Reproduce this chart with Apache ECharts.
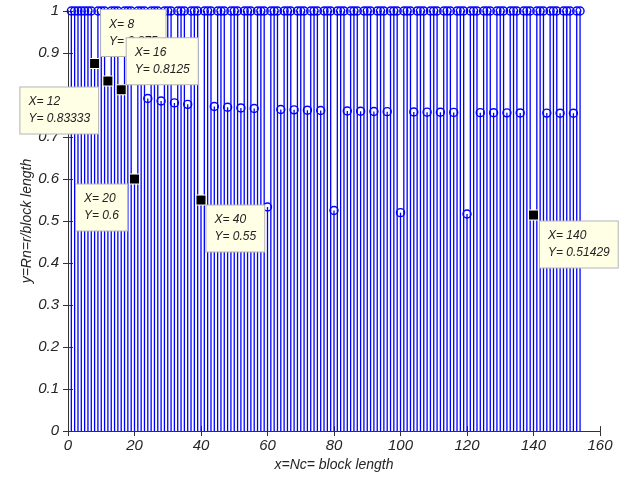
<!DOCTYPE html>
<html>
<head>
<meta charset="utf-8">
<script src="https://cdn.jsdelivr.net/npm/echarts@6/dist/echarts.min.js"></script>
<style>
  html, body { margin: 0; padding: 0; background: #fff; }
  #chart { width: 622px; height: 477px; }
</style>
</head>
<body>
<div id="chart"></div>
<script>
// rate y = r / block length, for block length 1..154
const rates = [
  1, 1, 1, 1, 1, 1, 1, 0.875, 1, 1,
  1, 0.83333, 1, 1, 1, 0.8125, 1, 1, 1, 0.6,
  1, 1, 1, 0.79167, 1, 1, 1, 0.78571, 1, 1,
  1, 0.78125, 1, 1, 1, 0.77778, 1, 1, 1, 0.55,
  1, 1, 1, 0.77273, 1, 1, 1, 0.77083, 1, 1,
  1, 0.76923, 1, 1, 1, 0.76786, 1, 1, 1, 0.53333,
  1, 1, 1, 0.76563, 1, 1, 1, 0.76471, 1, 1,
  1, 0.76389, 1, 1, 1, 0.76316, 1, 1, 1, 0.525,
  1, 1, 1, 0.7619, 1, 1, 1, 0.76136, 1, 1,
  1, 0.76087, 1, 1, 1, 0.76042, 1, 1, 1, 0.52,
  1, 1, 1, 0.75962, 1, 1, 1, 0.75926, 1, 1,
  1, 0.75893, 1, 1, 1, 0.75862, 1, 1, 1, 0.51667,
  1, 1, 1, 0.75806, 1, 1, 1, 0.75781, 1, 1,
  1, 0.75758, 1, 1, 1, 0.75735, 1, 1, 1, 0.51429,
  1, 1, 1, 0.75694, 1, 1, 1, 0.75676, 1, 1,
  1, 0.75658, 1, 1
];

// data tips
const tipX = [8, 12, 16, 20, 40, 140];
const tipY = [0.875, 0.83333, 0.8125, 0.6, 0.55, 0.51429];
const tipOffsets = [[12, -48], [-82, 12], [11, -46], [-53, 11], [11, 11], [12, 12]];

const font = "'Liberation Sans', Arial, sans-serif";
const axisColor = "#333";
const textColor = "#262626";

const points = rates.map((r, i) => [i + 1, r]);

const tips = tipX.map((x, i) => ({
  value: [x, tipY[i]],
  label: { position: tipOffsets[i] },
}));

const chart = echarts.init(document.getElementById("chart"));
chart.setOption({
  animation: false,
  grid: { left: 68, right: 22, top: 11, bottom: 45 },
  xAxis: [
    {
      type: "value",
      min: 0,
      max: 160,
      interval: 20,
      name: "x=Nc= block length",
      nameLocation: "middle",
      nameGap: 26,
      nameTextStyle: { fontFamily: font, fontStyle: "italic", fontSize: 14, color: textColor },
      axisLine: { lineStyle: { color: axisColor } },
      axisTick: { inside: true, length: 5, lineStyle: { color: axisColor } },
      axisLabel: { fontFamily: font, fontStyle: "italic", fontSize: 15, color: textColor, margin: 7 },
      splitLine: { show: false },
    },
    {
      type: "value",
      position: "top",
      min: 0,
      max: 160,
      interval: 20,
      axisLine: { show: true, lineStyle: { color: axisColor } },
      axisTick: { inside: true, length: 5, lineStyle: { color: axisColor } },
      axisLabel: { show: false },
      splitLine: { show: false },
    },
  ],
  yAxis: [
    {
      type: "value",
      min: 0,
      max: 1,
      interval: 0.1,
      name: "y=Rn=r/block length",
      nameLocation: "middle",
      nameGap: 34,
      nameMoveOverlap: false,
      nameTextStyle: { fontFamily: font, fontStyle: "italic", fontSize: 14, color: textColor },
      axisLine: { show: true, lineStyle: { color: axisColor } },
      axisTick: { show: true, inside: true, length: 5, lineStyle: { color: axisColor } },
      axisLabel: { fontFamily: font, fontStyle: "italic", fontSize: 15, color: textColor, margin: 9 },
      splitLine: { show: false },
    },
    {
      type: "value",
      position: "right",
      min: 0,
      max: 1,
      interval: 0.1,
      axisLine: { show: true, lineStyle: { color: axisColor } },
      axisTick: { show: true, inside: true, length: 5, lineStyle: { color: axisColor } },
      axisLabel: { show: false },
      splitLine: { show: false },
    },
  ],
  series: [
    {
      // stems
      type: "bar",
      data: points,
      barWidth: 1.3,
      itemStyle: { color: "#0000ff" },
      silent: true,
    },
    {
      // stem heads, open circles
      type: "scatter",
      data: points,
      symbol: "circle",
      symbolSize: 8,
      itemStyle: { color: "rgba(0,0,0,0)", borderColor: "#0000ff", borderWidth: 1.4, opacity: 1 },
      silent: true,
    },
    {
      // data tips
      type: "scatter",
      data: tips,
      symbol: "rect",
      symbolSize: 10,
      z: 10,
      itemStyle: { color: "#000", borderColor: "#fffff0", borderWidth: 1, opacity: 1 },
      label: {
        show: true,
        formatter: (p) => "X= " + p.value[0] + "\nY= " + p.value[1],
        fontFamily: font,
        fontStyle: "italic",
        fontSize: 12,
        lineHeight: 17,
        color: "#222",
        align: "left",
        verticalAlign: "top",
        backgroundColor: "#ffffe6",
        borderColor: "#b4b4b4",
        borderWidth: 1,
        padding: [6, 8, 6, 8],
      },
      silent: true,
    },
  ],
});
</script>
</body>
</html>
